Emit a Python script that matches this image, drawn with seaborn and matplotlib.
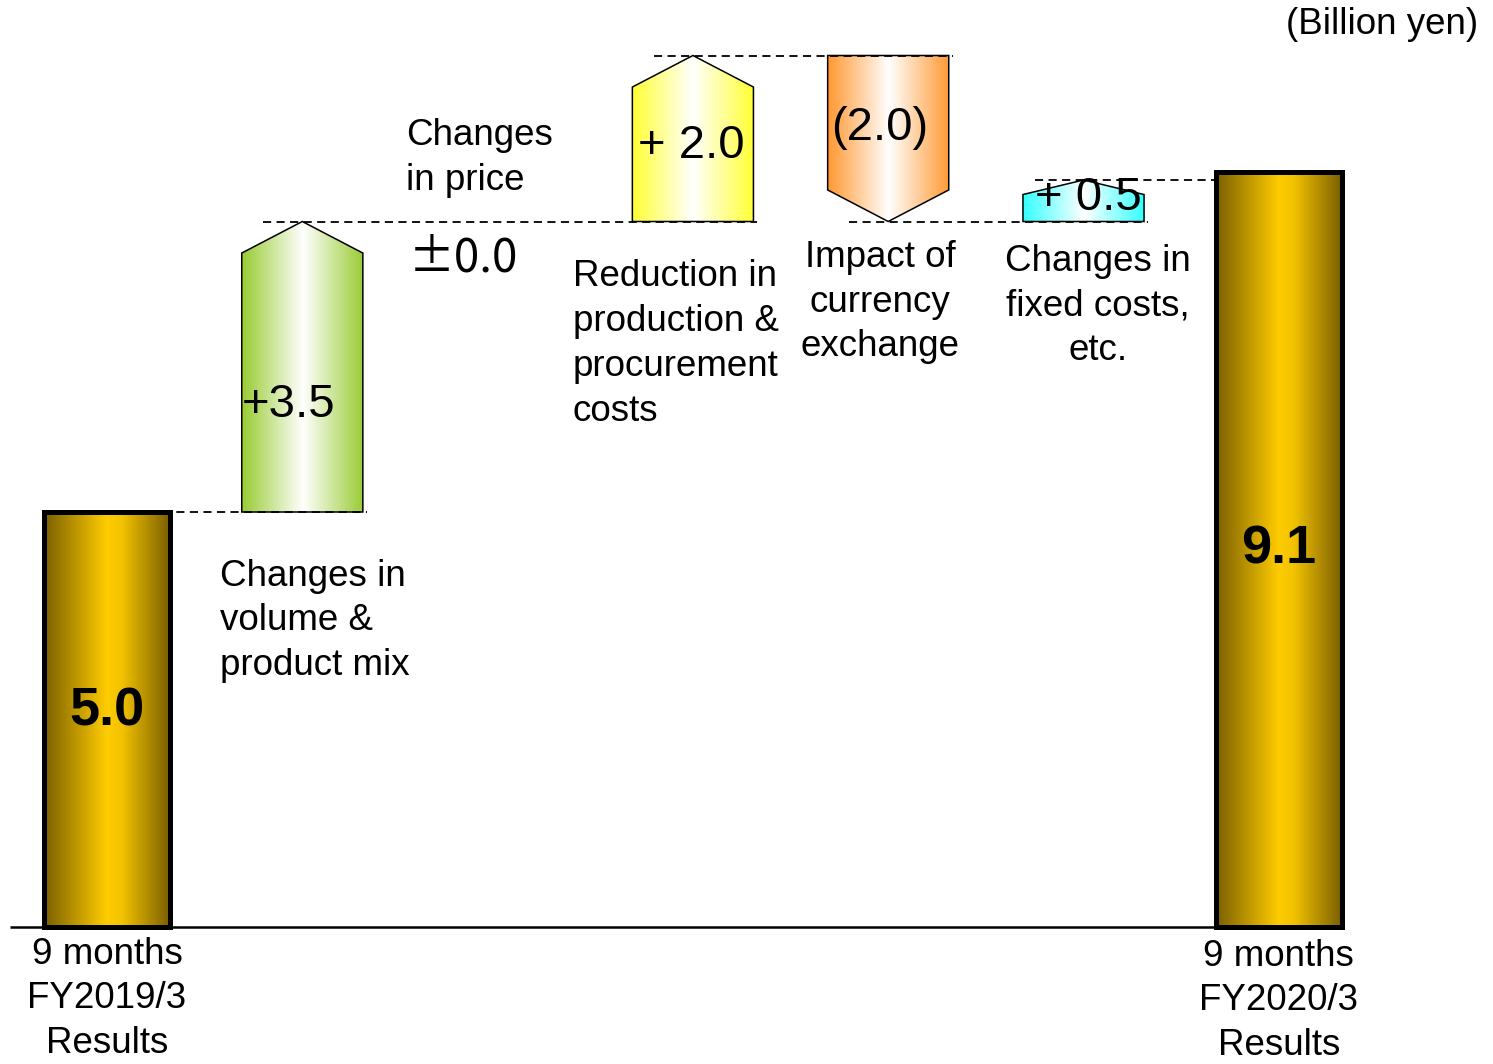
import numpy as np
import matplotlib
matplotlib.use("Agg")
import matplotlib.pyplot as plt
from matplotlib.patches import Polygon
from matplotlib.colors import LinearSegmentedColormap
import pandas as pd
import seaborn as sns

# ---------------- data ----------------
categories = [
    "9 months\nFY2019/3\nResults",
    "Changes in\nvolume &\nproduct mix",
    "Changes\nin price",
    "Reduction in\nproduction &\nprocurement\ncosts",
    "Impact of\ncurrency\nexchange",
    "Changes in\nfixed costs,\netc.",
    "9 months\nFY2020/3\nResults",
]
start_total = 5.0
end_total = 9.1
changes = [3.5, 0.0, 2.0, -2.0, 0.5]
change_labels = ["+3.5", "±0.0", "+ 2.0", "(2.0)", "+ 0.5"]
total_labels = ["5.0", "9.1"]
unit_label = "(Billion yen)"

# ---------------- styles ----------------
change_colors = ["#99CC33", None, "#FFFF33", "#FF9933", "#33FFFF"]
gold_dark = "#7A5F00"
gold_light = "#FFCC00"

sns.set_theme(style="white")
plt.rcParams["font.family"] = ["Liberation Sans", "DejaVu Sans"]
plt.rcParams["text.color"] = "black"

W, H = 1493, 1064
fig = plt.figure(figsize=(W / 100, H / 100), dpi=100)
ax = fig.add_axes([0, 0, 1, 1])

# pixel mapping of the layout (x: category index, y: value)
X0, XS = 107.0, 195.3      # pixel of index 0, pixels per category
Y0, YS = 927.0, 83.0       # pixel of zero line (from top), pixels per unit


def px(xp, yp):
    return (xp - X0) / XS, (Y0 - yp) / YS


# totals as seaborn bars
df_tot = pd.DataFrame({"cat": [categories[0], categories[-1]],
                       "value": [start_total, end_total]})
sns.barplot(data=df_tot, x="cat", y="value", order=categories, width=0.645,
            color=gold_light, saturation=1, edgecolor="black", linewidth=3.6,
            ax=ax, zorder=3)

gold_cmap = LinearSegmentedColormap.from_list(
    "gold", [(0, gold_dark), (0.5, gold_light), (0.62, "#F2C200"), (1, gold_dark)])

for p in list(ax.patches):
    bx, by = p.get_x(), p.get_y()
    bw, bh = p.get_width(), p.get_height()
    if not np.isfinite(bh) or bh == 0:
        continue
    grad = np.linspace(0, 1, 256)[None, :]
    im = ax.imshow(grad, cmap=gold_cmap, extent=[bx, bx + bw, by, by + bh],
                   aspect="auto", origin="lower", zorder=2.5, interpolation="bilinear")
    im.set_clip_path(p)
    p.set_facecolor("none")

# change arrows
levels = [start_total]
for d in changes:
    levels.append(levels[-1] + d)

aw = 0.62
for i, d in enumerate(changes):
    if d == 0:
        continue
    c = i + 1
    y0, y1 = levels[i], levels[i + 1]
    head = min(0.38, 0.35 * abs(d))
    sgn = 1 if d > 0 else -1
    verts = [(c - aw / 2, y0), (c + aw / 2, y0), (c + aw / 2, y1 - sgn * head),
             (c, y1), (c - aw / 2, y1 - sgn * head)]
    poly = Polygon(verts, closed=True, facecolor="none", edgecolor="black",
                   linewidth=1.1, zorder=3, joinstyle="miter")
    ax.add_patch(poly)
    cmap = LinearSegmentedColormap.from_list(
        f"g{i}", [(0, change_colors[i]), (0.5, "white"), (1, change_colors[i])])
    grad = np.linspace(0, 1, 256)[None, :]
    im = ax.imshow(grad, cmap=cmap,
                   extent=[c - aw / 2, c + aw / 2, min(y0, y1), max(y0, y1)],
                   aspect="auto", origin="lower", zorder=2.5, interpolation="bilinear")
    im.set_clip_path(poly)

# dashed connectors: one line per flat run of levels
dash_kw = dict(color="black", linewidth=1.3, linestyle=(0, (4.5, 3)))
n = len(changes)
i = 0
while i < n:
    lvl = levels[i]
    k = i
    while k < n and changes[k] == 0:
        k += 1
    end_idx = k + 1
    ax.plot([i - 0.2, end_idx + 0.33], [lvl, lvl], zorder=4, **dash_kw)
    i = k + 1
# last step to the closing total (drawn behind the bar)
ax.plot([n - 0.25, n + 1 + 0.33], [levels[-1], levels[-1]], zorder=2, **dash_kw)

# baseline
ax.plot([px(10, 0)[0], len(categories) - 1], [0, 0], color="black",
        linewidth=1.8, zorder=1, solid_capstyle="butt")

# text
lab_fs = 26.5
val_fs = 34
ls = 1.36
ax.text(*px(1478, 24), unit_label, ha="right", va="center", fontsize=lab_fs)

ax.text(0, px(0, 999)[1], categories[0], ha="center", va="center",
        fontsize=lab_fs, linespacing=ls)
ax.text(len(categories) - 1, px(0, 1001)[1], categories[-1], ha="center",
        va="center", fontsize=lab_fs, linespacing=ls)

ax.text(*px(220, 621), categories[1], ha="left", va="center", fontsize=lab_fs,
        linespacing=ls)
ax.text(*px(406, 158), categories[2], ha="left", va="center", fontsize=lab_fs,
        linespacing=ls)
ax.text(*px(573, 344), categories[3], ha="left", va="center", fontsize=lab_fs,
        linespacing=ls)
ax.text(*px(880, 302), categories[4], ha="center", va="center", fontsize=lab_fs,
        linespacing=ls)
ax.text(*px(1098, 306), categories[5], ha="center", va="center", fontsize=lab_fs,
        linespacing=ls)

# value labels on the arrows (x relative to each arrow centre)
ax.text(1 - 14 / XS, px(0, 405)[1], change_labels[0], ha="center", va="center",
        fontsize=val_fs, zorder=5)
ax.text(*px(409, 258), change_labels[1], ha="left", va="center", fontsize=33,
        family=["Noto Sans CJK JP", "DejaVu Sans"], zorder=5)
ax.text(3 - 2 / XS, px(0, 146)[1], change_labels[2], ha="center", va="center",
        fontsize=val_fs, zorder=5)
ax.text(4 - 9 / XS, px(0, 128)[1], change_labels[3], ha="center", va="center",
        fontsize=val_fs, zorder=5)
ax.text(5 + 5 / XS, px(0, 198)[1], change_labels[4], ha="center", va="center",
        fontsize=val_fs, zorder=5)

ax.text(0, px(0, 712)[1], total_labels[0], ha="center", va="center",
        fontsize=39, fontweight="bold", zorder=5)
ax.text(len(categories) - 1, end_total / 2, total_labels[1], ha="center",
        va="center", fontsize=39, fontweight="bold", zorder=5)

ax.set_xlim(px(0, 0)[0], px(W, 0)[0])
ax.set_ylim(px(0, H)[1], px(0, 0)[1])
ax.axis("off")

fig.savefig("out.png", dpi=100, facecolor="white")
